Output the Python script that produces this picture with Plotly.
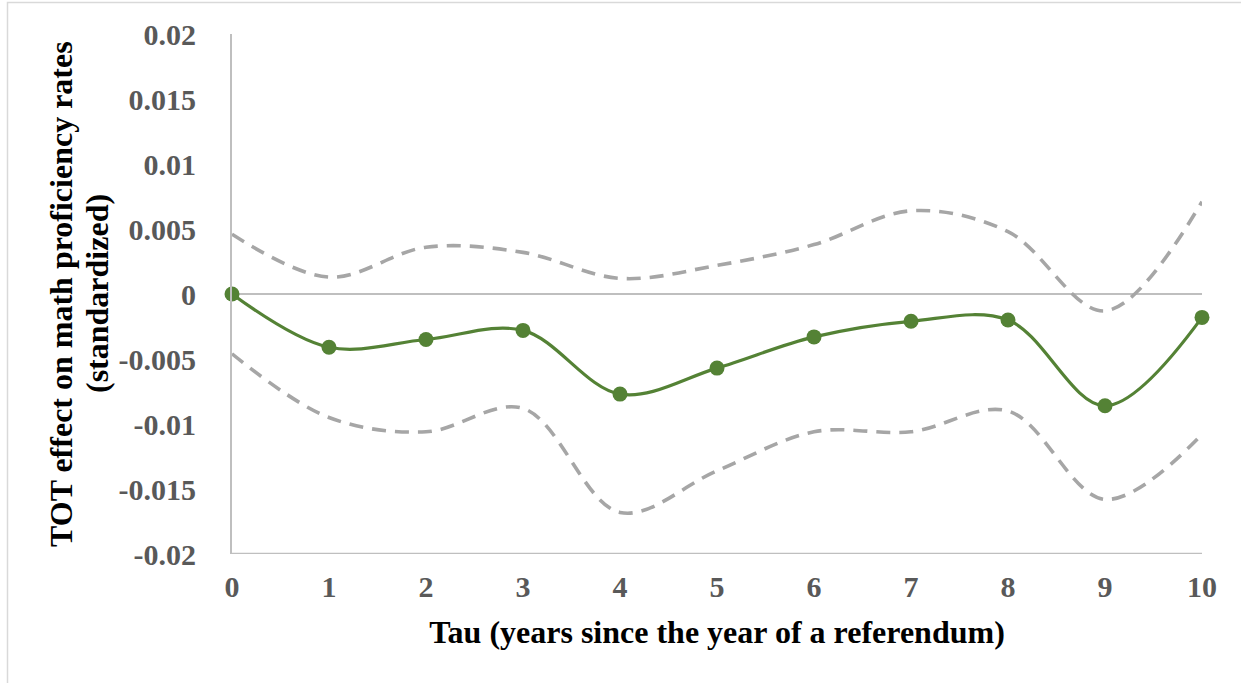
import plotly.graph_objects as go

tau = [0, 1, 2, 3, 4, 5, 6, 7, 8, 9, 10]
effect = [0.0, -0.0041, -0.0035, -0.0028, -0.0077, -0.0057, -0.0033, -0.0021, -0.0020, -0.0086, -0.0018]
upper_ci = [0.0046, 0.0013, 0.0036, 0.0032, 0.0012, 0.0022, 0.0038, 0.0064, 0.0048, -0.0013, 0.0071]
lower_ci = [-0.0046, -0.0095, -0.0106, -0.0088, -0.0168, -0.0136, -0.0106, -0.0106, -0.0090, -0.0158, -0.0108]

y_tickvals = [0.02, 0.015, 0.01, 0.005, 0, -0.005, -0.01, -0.015, -0.02]
y_ticktext = ["0.02", "0.015", "0.01", "0.005", "0", "-0.005", "-0.01", "-0.015", "-0.02"]
x_tickvals = tau
x_ticktext = [str(t) for t in tau]
y_title_lines = ["TOT effect on math proficiency rates", "(standardized)"]
x_title = "Tau (years since the year of a referendum)"

GRAY_DASH = "#A6A6A6"
GREEN = "#548235"
AXIS = "#BFBFBF"
FONT = "Liberation Serif"
L, R, T, B = 232, 39, 34, 129
PW = 1241 - L - R

fig = go.Figure()
fig.add_trace(go.Scatter(x=tau, y=upper_ci, mode="lines", line=dict(color=GRAY_DASH, width=3.6, dash="14px,9px", shape="spline", smoothing=1.0), cliponaxis=False, showlegend=False, hoverinfo="skip"))
fig.add_trace(go.Scatter(x=tau, y=lower_ci, mode="lines", line=dict(color=GRAY_DASH, width=3.6, dash="14px,9px", shape="spline", smoothing=1.0), cliponaxis=False, showlegend=False, hoverinfo="skip"))
fig.add_trace(go.Scatter(x=tau, y=effect, mode="lines+markers", line=dict(color=GREEN, width=3.2, shape="spline", smoothing=1.0), marker=dict(color=GREEN, size=15), cliponaxis=False, showlegend=False))

annotations = []
for cx, line in zip([61, 97], y_title_lines):
    annotations.append(dict(text=line, textangle=-90, xref="paper", yref="paper",
                            x=(cx - L) / PW, y=0.5, xanchor="center", yanchor="middle", showarrow=False,
                            font=dict(family=FONT, size=32, color="black", weight="bold")))

fig.update_layout(
    width=1241, height=683,
    margin=dict(l=L, r=R, t=T, b=B),
    paper_bgcolor="white", plot_bgcolor="white",
    font=dict(family=FONT, size=30, color="#595959"),
    xaxis=dict(range=[0, 10], tickvals=x_tickvals, ticktext=x_ticktext, showgrid=False, zeroline=False,
               showline=False, ticks="", ticklabelstandoff=12,
               tickfont=dict(family=FONT, size=30, color="#595959", weight="bold"),
               title=dict(text=x_title, standoff=18,
                          font=dict(family=FONT, size=32, color="black", weight="bold"))),
    yaxis=dict(range=[-0.02, 0.02], tickvals=y_tickvals, ticktext=y_ticktext, showgrid=False,
               zeroline=True, zerolinecolor=AXIS, zerolinewidth=1.5,
               showline=True, linecolor=AXIS, linewidth=2, ticks="", ticklabelstandoff=28,
               tickfont=dict(family=FONT, size=30, color="#595959", weight="bold")),
    annotations=annotations,
    shapes=[
        dict(type="line", xref="x", yref="y", x0=0, x1=10, y0=-0.02, y1=-0.02, line=dict(color=AXIS, width=2.3), layer="below"),
        dict(type="rect", xref="paper", yref="paper", x0=(7.5 - L) / PW, x1=1.2, y0=(554 - 2.5) / 520, y1=-0.5,
             line=dict(color="#D9D9D9", width=1.5), layer="below"),
    ],
)

fig.write_html("out.html", config={"displayModeBar": False},
               post_script="document.body.style.margin='0';document.body.style.overflow='hidden';")
